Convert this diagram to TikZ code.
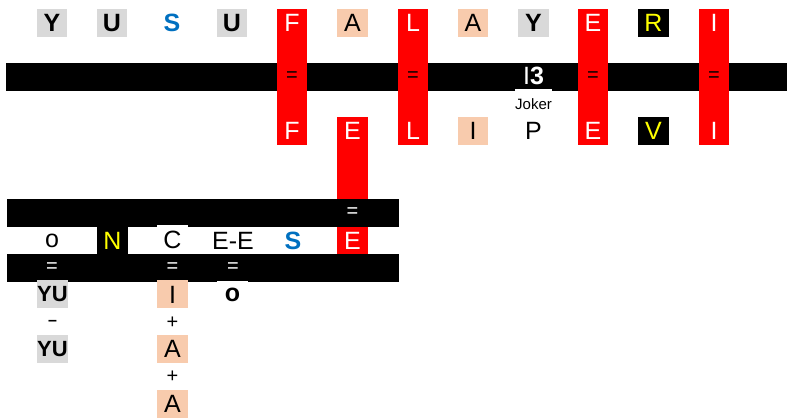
\documentclass[tikz,border=0pt]{standalone}
\usepackage{fontspec}
\setmainfont{Liberation Sans}
\usetikzlibrary{positioning}
\definecolor{cellgray}{HTML}{D9D9D9}
\definecolor{peach}{HTML}{F8CBAD}
\definecolor{sblue}{HTML}{0070C0}
\definecolor{yell}{HTML}{FFFF00}

\begin{document}
\begin{tikzpicture}[x=1pt, y=-1pt,
  cell/.style={minimum width=30.5pt, minimum height=28pt, inner sep=0pt, font=\fontsize{25}{25}\selectfont},
  greycell/.style={cell, fill=cellgray, font=\fontsize{25}{25}\selectfont\bfseries},
  bluecell/.style={cell, text=sblue, font=\fontsize{25}{25}\selectfont\bfseries},
  redcell/.style={cell, text=white},
  peachcell/.style={cell, fill=peach},
  darkcell/.style={cell, fill=black, text=yell},
  redcol/.style={fill=red, minimum width=30.5pt, inner sep=0pt},
  eqsign/.style={inner sep=0pt, font=\fontsize{20}{20}\selectfont},
  band/.style={fill=black}]
\useasboundingbox (0,0) rectangle (787,419);
\fill[band] (6,63) rectangle (787,91);
\node (colF) [redcol, minimum height=136pt] at (292,77) {};
\node (colL) [redcol, minimum height=136pt] at (413,77) {};
\node (colE) [redcol, minimum height=136pt] at (593,77) {};
\node (colI) [redcol, minimum height=136pt] at (714,77) {};
\node (colE2) [redcol, minimum height=137pt] at (352.5,185.5) {};
\fill[band] (7,199) rectangle (399,227);
\fill[band] (7,254) rectangle (399,282);
% name on top
\node (Y1) [greycell] at (52,23) {Y};
\node (U1) [greycell] at (112,23) {U};
\node (S1) [bluecell] at (172,23) {S};
\node (U2) [greycell] at (232,23) {U};
\node (F1) [redcell] at (292,23) {F};
\node (A1) [peachcell] at (352.5,23) {A};
\node (L1) [redcell] at (413,23) {L};
\node (A2) [peachcell] at (473,23) {A};
\node (Y2) [greycell] at (533.5,23) {Y};
\node (E1) [redcell] at (593,23) {E};
\node (R1) [darkcell] at (653.5,23) {R};
\node (I1) [redcell] at (714,23) {I};
\node (eqF) [eqsign] at (292,77) {=};
\node (eqL) [eqsign] at (413,77) {=};
\node (eqE) [eqsign] at (593,77) {=};
\node (eqI) [eqsign] at (714,77) {=};
\node (joker) [fill=white, minimum width=30.5pt, minimum height=30pt, inner sep=0pt,
  font=\fontsize{15}{15}\selectfont] at (533.5,104) {Joker};
\node (I3) [text=white, font=\fontsize{25}{25}\selectfont] at (533.5,76) {I\textbf{3}};
% second name
\node (F2) [redcell] at (292,131) {F};
\node (E2) [redcell] at (352.5,131) {E};
\node (L2) [redcell] at (413,131) {L};
\node (I2) [peachcell] at (473,131) {I};
\node (P2) [cell] at (533.5,131) {P};
\node (E3) [redcell] at (593,131) {E};
\node (V2) [darkcell] at (653.5,131) {V};
\node (I4) [redcell] at (714,131) {I};
% lower part
\node (eqE2) [eqsign, text=white] at (352.5,213) {=};
\node (o1) [cell] at (52,240.5) {o};
\node (N1) [darkcell, minimum height=27pt] at (112.5,240.5) {N};
\node (C1) [cell, fill=white, minimum height=29pt] at (172.5,239.5) {C};
\node (EE) [cell] at (233,240.5) {E-E};
\node (S2) [bluecell] at (293,240.5) {S};
\node (E4) [redcell, minimum height=27pt] at (352.5,240.5) {E};
\node (eqo) [eqsign, text=white] at (52,268) {=};
\node (eqC) [eqsign, text=white] at (172.5,268) {=};
\node (eqEE) [eqsign, text=white] at (233,268) {=};
\node (YU1) [greycell, font=\fontsize{22}{22}\selectfont\bfseries] at (52.5,294.5) {YU};
\node (minus) [eqsign, font=\fontsize{16}{16}\selectfont\bfseries] at (52.5,323) {--};
\node (YU2) [greycell, font=\fontsize{22}{22}\selectfont\bfseries] at (52.5,349) {YU};
\node (I5) [peachcell] at (172.5,294.5) {I};
\node (plus1) [eqsign] at (172.5,323) {+};
\node (A3) [peachcell] at (172.5,349) {A};
\node (plus2) [eqsign] at (172.5,377) {+};
\node (A4) [peachcell] at (172.5,404) {A};
\node (o2) [cell, fill=white, font=\fontsize{25}{25}\selectfont\bfseries] at (232.5,295) {o};
\end{tikzpicture}
\end{document}
